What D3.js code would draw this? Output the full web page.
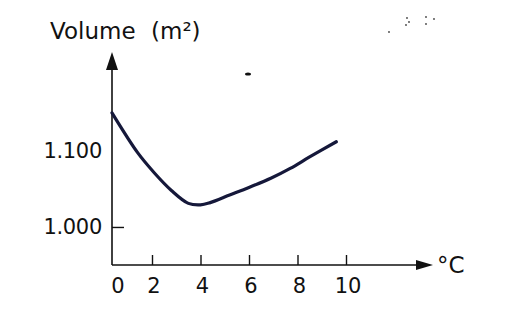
<!DOCTYPE html>
<html>
<head>
<meta charset="utf-8">
<script src="https://cdn.jsdelivr.net/npm/d3@7"></script>
<style>
  body { margin: 0; background: #fff; }
  svg { display: block; }
  text { font-family: "DejaVu Sans", sans-serif; fill: #111; }
</style>
</head>
<body>
<svg></svg>
<script>
// curve
var temps   = [0, 1.3, 2.1, 2.8, 3.5, 4.0, 4.4, 5.2, 6.0, 6.9, 7.7, 8.5, 9.6];
var volumes = [1.150, 1.097, 1.071, 1.048, 1.031, 1.029, 1.032, 1.042, 1.052, 1.064, 1.077, 1.092, 1.112];

var xTickValues = [0, 2, 4, 6, 8, 10];
var yTickValues = [1.000, 1.100];
var yTickLabels = ["1.000", "1.100"];

var svg = d3.select("svg").attr("width", 525).attr("height", 320);

// the origin sits a bit closer to 2 than the other ticks do
var x = d3.scaleLinear().domain([0, 2, 10]).range([112, 152, 346]);
var y = d3.scaleLinear().domain([0.95, 1.23]).range([265, 52]);

var axisColor = "#111";
var x0 = x(0), yBase = y(0.95);

// x axis line with arrow
svg.append("line")
    .attr("x1", x0).attr("y1", yBase)
    .attr("x2", 420).attr("y2", yBase)
    .attr("stroke", axisColor).attr("stroke-width", 1.6);
svg.append("path")
    .attr("d", "M433," + yBase + " L416," + (yBase - 5) + " L416," + (yBase + 5) + " Z")
    .attr("fill", axisColor);

// y axis line with arrow
svg.append("line")
    .attr("x1", x0).attr("y1", yBase)
    .attr("x2", x0).attr("y2", 66)
    .attr("stroke", axisColor).attr("stroke-width", 1.6);
svg.append("path")
    .attr("d", "M" + x0 + ",52 L" + (x0 - 6) + ",70 L" + (x0 + 6) + ",70 Z")
    .attr("fill", axisColor);

// x ticks point up into the plot
var xAxis = d3.axisBottom(x)
    .tickValues(xTickValues)
    .tickSizeInner(0)
    .tickPadding(13)
    .tickFormat(d3.format("d"));

var gx = svg.append("g")
    .attr("transform", "translate(0," + yBase + ")")
    .call(xAxis);
gx.select(".domain").remove();
gx.selectAll(".tick line")
    .attr("y2", function(d) { return d === 0 ? 0 : -10; })
    .attr("stroke", axisColor).attr("stroke-width", 1.4);
gx.selectAll(".tick text")
    .attr("font-size", 21)
    .attr("dy", "0.71em")
    .attr("font-family", "DejaVu Sans, sans-serif")
    .attr("fill", "#111")
    .attr("x", function(d) { return d === 0 ? 5.5 : 1.5; });

// y labels, only 1.000 carries a tick mark
var yAxis = d3.axisLeft(y)
    .tickValues(yTickValues)
    .tickSizeInner(0)
    .tickPadding(10)
    .tickFormat(function(d, i) { return yTickLabels[i]; });

var gy = svg.append("g")
    .attr("transform", "translate(" + x0 + ",0)")
    .call(yAxis);
gy.select(".domain").remove();
gy.selectAll(".tick line")
    .attr("x2", function(d) { return d === 1.0 ? 12 : 0; })
    .attr("stroke", axisColor).attr("stroke-width", 1.4);
gy.selectAll(".tick text")
    .attr("font-size", 21)
    .attr("font-family", "DejaVu Sans, sans-serif")
    .attr("fill", "#111")
    .attr("letter-spacing", "-0.3");

// axis titles
var title = svg.append("text")
    .attr("x", 50).attr("y", 39)
    .attr("font-size", 23);
title.append("tspan").text("Volume");
title.append("tspan").attr("x", 151).text("(m²)");

svg.append("text")
    .attr("x", 437).attr("y", 273)
    .attr("font-size", 23)
    .text("°C");

// the curve
var points = temps.map(function(t, i) { return [t, volumes[i]]; });
var line = d3.line()
    .x(function(d) { return x(d[0]); })
    .y(function(d) { return y(d[1]); })
    .curve(d3.curveCatmullRom.alpha(0.5));

svg.append("path")
    .datum(points)
    .attr("d", line)
    .attr("fill", "none")
    .attr("stroke", "#15183a")
    .attr("stroke-width", 3.2)
    .attr("stroke-linecap", "round");

// scan specks from the original
svg.append("ellipse")
    .attr("cx", 248).attr("cy", 74)
    .attr("rx", 3).attr("ry", 1.6)
    .attr("fill", "#111");
var specks = [[407, 18], [409, 22], [406, 25], [426, 17], [434, 19], [426, 24], [389, 32]];
svg.selectAll(".speck")
    .data(specks)
    .enter().append("circle")
    .attr("class", "speck")
    .attr("cx", function(d) { return d[0]; })
    .attr("cy", function(d) { return d[1]; })
    .attr("r", 0.9)
    .attr("fill", "#444");
</script>
</body>
</html>
